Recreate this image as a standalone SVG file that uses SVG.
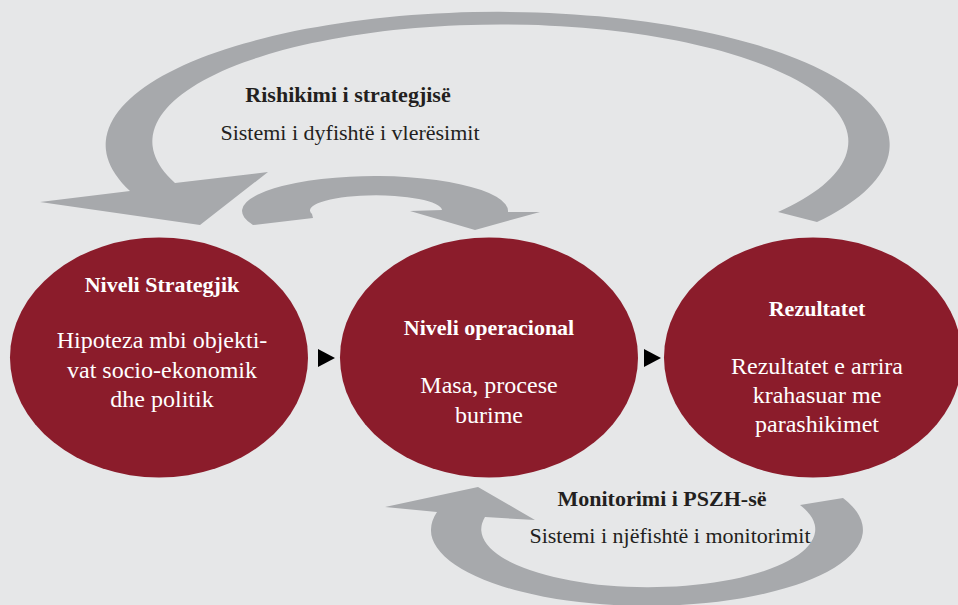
<svg xmlns="http://www.w3.org/2000/svg" width="958" height="605" viewBox="0 0 958 605">
  <style>
    .bg { fill: #e6e7e8; }
    .loop { fill: #a7a9ac; }
    .node { fill: #8b1c2b; }
    .step { fill: #000000; }
    .title { font-family: "Liberation Serif", "DejaVu Serif", serif; font-weight: bold; font-size: 22px; fill: #ffffff; text-anchor: middle; }
    .body { font-family: "Liberation Serif", "DejaVu Serif", serif; font-size: 24px; fill: #ffffff; text-anchor: middle; }
    .lbl-b { font-family: "Liberation Serif", "DejaVu Serif", serif; font-weight: bold; font-size: 22px; fill: #231f20; text-anchor: middle; }
    .lbl { font-family: "Liberation Serif", "DejaVu Serif", serif; font-size: 22px; fill: #231f20; text-anchor: middle; }
  </style>

  <rect class="bg" x="0" y="0" width="958" height="605"/>

  <g id="connectors">
    <!-- large feedback loop: Rezultatet back to the strategic level -->
    <path class="loop" d="M 817 222 A 392 133 0 1 0 130 191 L 40 202 L 200 225 L 268 172 L 175 183 A 348 117 0 1 1 778 212 Z"/>
    <!-- small loop above the operational level -->
    <path class="loop" d="M 253 225 A 133 35 0 1 1 508 212 L 540 212 L 475 230 L 410 211 L 442 210 A 66 15 0 1 0 312 214 L 313 218 Z"/>
    <!-- monitoring loop below -->
    <path class="loop" d="M 843 498 A 216 76 0 1 1 437 512 L 385 507 L 478 487 L 535 520 L 485 517 A 167 58 0 1 0 800 505 Z"/>

    <!-- flow markers between the levels -->
    <polygon class="step" points="318,349 335,358 318,367"/>
    <polygon class="step" points="644,349 661,358 644,367"/>

    <g id="label-review">
      <text class="lbl-b" x="348" y="102">Rishikimi i strategjisë</text>
      <text class="lbl" x="350" y="140">Sistemi i dyfishtë i vlerësimit</text>
    </g>
    <g id="label-monitoring">
      <text class="lbl-b" x="662" y="506">Monitorimi i PSZH-së</text>
      <text class="lbl" x="670" y="543">Sistemi i njëfishtë i monitorimit</text>
    </g>
  </g>

  <g id="node-strategic">
    <ellipse class="node" cx="159" cy="357.5" rx="149" ry="120"/>
    <text class="title" x="162" y="292">Niveli Strategjik</text>
    <text class="body" x="162" y="348">Hipoteza mbi objekti-</text>
    <text class="body" x="162" y="378">vat socio-ekonomik</text>
    <text class="body" x="162" y="407">dhe politik</text>
  </g>

  <g id="node-operational">
    <ellipse class="node" cx="489" cy="357.5" rx="149" ry="120"/>
    <text class="title" x="489" y="335">Niveli operacional</text>
    <text class="body" x="489" y="393">Masa, procese</text>
    <text class="body" x="489" y="423">burime</text>
  </g>

  <g id="node-results">
    <ellipse class="node" cx="813" cy="357.5" rx="149" ry="120"/>
    <text class="title" x="817" y="316">Rezultatet</text>
    <text class="body" x="817" y="374">Rezultatet e arrira</text>
    <text class="body" x="817" y="403">krahasuar me</text>
    <text class="body" x="817" y="432">parashikimet</text>
  </g>
</svg>
